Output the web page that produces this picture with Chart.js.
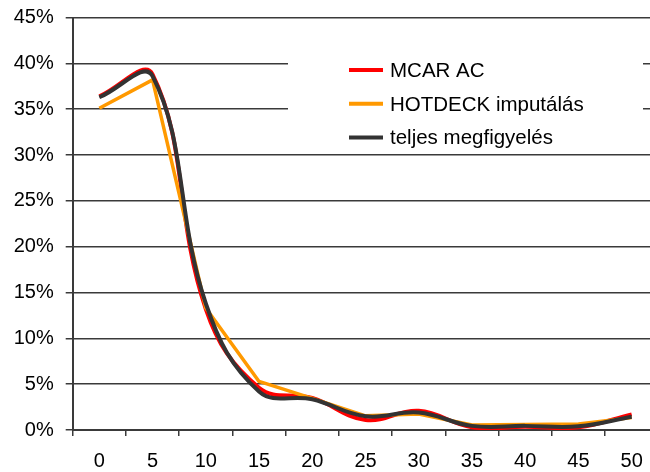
<!DOCTYPE html>
<html>
<head>
<meta charset="utf-8">
<script src="https://cdn.jsdelivr.net/npm/chart.js@4.4.1/dist/chart.umd.min.js"></script>
<style>
  html, body { margin: 0; padding: 0; background: #fff; overflow: hidden; }
  #wrap { position: relative; width: 659px; height: 472px; }
</style>
</head>
<body>
<div id="wrap"><canvas id="chart"></canvas></div>
<script>
// x kategóriák és a három sorozat (%)
const categories = ['0', '5', '10', '15', '20', '25', '30', '35', '40', '45', '50'];
const mcarAc  = [36.4, 38.8, 13.2, 4.6, 3.5, 1.1, 2.1, 0.3, 0.35, 0.3, 1.7];
const hotdeck = [35.1, 38.2, 13.3, 5.3, 3.45, 1.55, 1.75, 0.55, 0.6, 0.65, 1.35];
const teljes  = [36.3, 38.6, 13.8, 4.2, 3.35, 1.5, 1.9, 0.45, 0.45, 0.4, 1.45];
const yMin = 0, yMax = 45, yStep = 5;

const FONT = '"Liberation Sans", Arial, sans-serif';
const gridColor = '#3a3a3a';

// jelmagyarázat fehér dobozban, a rajzterület belsejében
const boxLegend = {
    id: 'boxLegend',
    afterDraw(chart) {
        const ctx = chart.ctx;
        ctx.save();
        ctx.fillStyle = '#fff';
        ctx.fillRect(288, 42, 355, 110);
        ctx.font = '20.5px ' + FONT;
        ctx.textBaseline = 'alphabetic';
        chart.data.datasets.forEach((ds, i) => {
            const y = 70 + i * 33.7;
            ctx.strokeStyle = ds.borderColor;
            ctx.lineWidth = 4;
            ctx.beginPath();
            ctx.moveTo(349, y);
            ctx.lineTo(383, y);
            ctx.stroke();
            ctx.fillStyle = '#000';
            ctx.fillText(ds.label, 390, y + 7);
        });
        ctx.restore();
    }
};

new Chart(document.getElementById('chart'), {
    type: 'line',
    data: {
        labels: categories,
        datasets: [
            { label: 'MCAR AC', data: mcarAc, borderColor: '#ff0000', borderWidth: 4, tension: 0.4, order: 2 },
            { label: 'HOTDECK imputálás', data: hotdeck, borderColor: '#ff9900', borderWidth: 3.5, tension: 0, order: 1 },
            { label: 'teljes megfigyelés', data: teljes, borderColor: '#333333', borderWidth: 4, tension: 0.4, order: 0 }
        ]
    },
    options: {
        responsive: true,
        maintainAspectRatio: false,
        animation: false,
        layout: { padding: { top: 17.5, right: 0.7, left: 0, bottom: 0 } },
        elements: { point: { radius: 0 }, line: { borderCapStyle: 'butt', borderJoinStyle: 'round' } },
        plugins: {
            legend: { display: false },
            tooltip: { enabled: false }
        },
        scales: {
            x: {
                offset: true,
                grid: { offset: true, drawOnChartArea: false, drawTicks: true, tickLength: 6, color: gridColor, lineWidth: 1.5 },
                border: { color: gridColor, width: 2 },
                ticks: { color: '#000', font: { family: FONT, size: 20 }, padding: 13, maxRotation: 0, autoSkip: false },
                afterFit(scale) { scale.height = 42; }
            },
            y: {
                min: yMin,
                max: yMax,
                grid: { color: gridColor, lineWidth: 1.5, tickLength: 7 },
                border: { color: gridColor, width: 2 },
                ticks: {
                    stepSize: yStep,
                    color: '#000',
                    font: { family: FONT, size: 20 },
                    padding: 12,
                    callback: v => v + '%'
                },
                afterFit(scale) {
                    scale.width = 72.7;
                    scale.paddingTop = 0;
                    scale.paddingBottom = 0;
                }
            }
        }
    },
    plugins: [boxLegend]
});
</script>
</body>
</html>
